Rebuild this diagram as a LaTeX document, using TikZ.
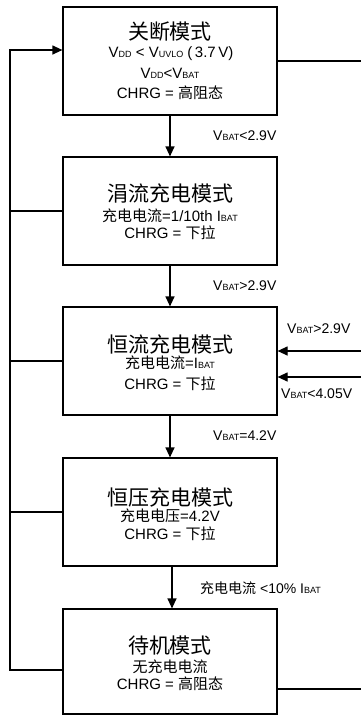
\documentclass[tikz,border=0pt]{standalone}
\usepackage{fontspec}
\setmainfont{Liberation Sans}
\newfontfamily\cjk{Noto Sans CJK SC}
\usetikzlibrary{arrows.meta}
\newcommand{\sm}[1]{{\fontsize{9}{9}\selectfont #1}}
\tikzset{
  box/.style={draw, line width=1.2pt, minimum width=214pt, inner sep=0pt},
  ttl/.style={font=\fontsize{21}{21}\selectfont\cjk, inner sep=0pt},
  bod/.style={font=\fontsize{15}{15}\selectfont, inner sep=0pt},
  lab/.style={font=\fontsize{14}{14}\selectfont, inner sep=0pt, anchor=west},
  ln/.style={line width=1.2pt},
  arr/.style={line width=1.2pt, -{Triangle[length=10pt,width=9pt]}},
}
\begin{document}
\begin{tikzpicture}[x=1pt,y=-1pt]
\useasboundingbox (0,0) rectangle (360,716);
% boxes
\node[box, minimum height=108pt] (b1) at (170,61) {};
\node[box, minimum height=108pt] (b2) at (170,211) {};
\node[box, minimum height=108pt] (b3) at (170,361) {};
\node[box, minimum height=108pt] (b4) at (170,512) {};
\node[box, minimum height=105pt] (b5) at (170,661.5) {};
% texts box1
\node[ttl] (t1) at (170,32) {关断模式};
\node[bod] (t1a) at (171,54) {V\sm{DD} < V\sm{UVLO} (\,3.7\,V)};
\node[bod] (t1b) at (170,73) {V\sm{DD}<V\sm{BAT}};
\node[bod] (t1c) at (170,93) {CHRG = {\cjk 高阻态}};
% box2
\node[ttl] (t2) at (170,193) {涓流充电模式};
\node[bod] (t2a) at (170,216) {{\cjk 充电电流}=1/10th I\sm{BAT}};
\node[bod] (t2b) at (170,233) {CHRG = {\cjk 下拉}};
% box3
\node[ttl] (t3) at (170,344) {恒流充电模式};
\node[bod] (t3a) at (170,363) {{\cjk 充电电流}=I\sm{BAT}};
\node[bod] (t3b) at (170,384) {CHRG = {\cjk 下拉}};
% box4
\node[ttl] (t4) at (170,497) {恒压充电模式};
\node[bod] (t4a) at (170,516) {{\cjk 充电电压}=4.2V};
\node[bod] (t4b) at (170,534) {CHRG = {\cjk 下拉}};
% box5
\node[ttl] (t5) at (170,646) {待机模式};
\node[bod] (t5a) at (170,667) {\cjk 无充电电流};
\node[bod] (t5b) at (170,684) {CHRG = {\cjk 高阻态}};
% labels
\node[lab] (l1) at (213,136) {V\sm{BAT}<2.9V};
\node[lab] (l2) at (213,286) {V\sm{BAT}>2.9V};
\node[lab] (l3) at (287,329) {V\sm{BAT}>2.9V};
\node[lab] (l4) at (281,394) {V\sm{BAT}<4.05V};
\node[lab] (l5) at (213,436) {V\sm{BAT}=4.2V};
\node[lab] (l6) at (200,588) {{\cjk 充电电流} <10\% I\sm{BAT}};
% vertical arrows
\draw[arr] (b1.south) -- (b2.north);
\draw[arr] (b2.south) -- (b3.north);
\draw[arr] (b3.south) -- (b4.north);
\draw[arr] ([xshift=2pt]b4.south) -- ([xshift=2pt]b5.north);
% left loop
\coordinate (la) at (10,50);
\coordinate (lb) at (10,670);
\draw[arr] (b5.west |- lb) -- (lb) -- (la) -- (b1.west |- la);
\draw[ln] (b2.west) -- (b2.west -| la);
\draw[ln] (b3.west) -- (b3.west -| la);
\draw[ln] (b4.west) -- (b4.west -| la);
% right side
\coordinate (r1) at (361,61);
\coordinate (r2) at (361,689);
\coordinate (r3) at (361,351);
\coordinate (r4) at (361,377);
\draw[ln] (b1.east |- r1) -- (r1);
\draw[ln] (b5.east |- r2) -- (r2);
\draw[arr] (r3) -- (b3.east |- r3);
\draw[arr] (r4) -- (b3.east |- r4);
\end{tikzpicture}
\end{document}
